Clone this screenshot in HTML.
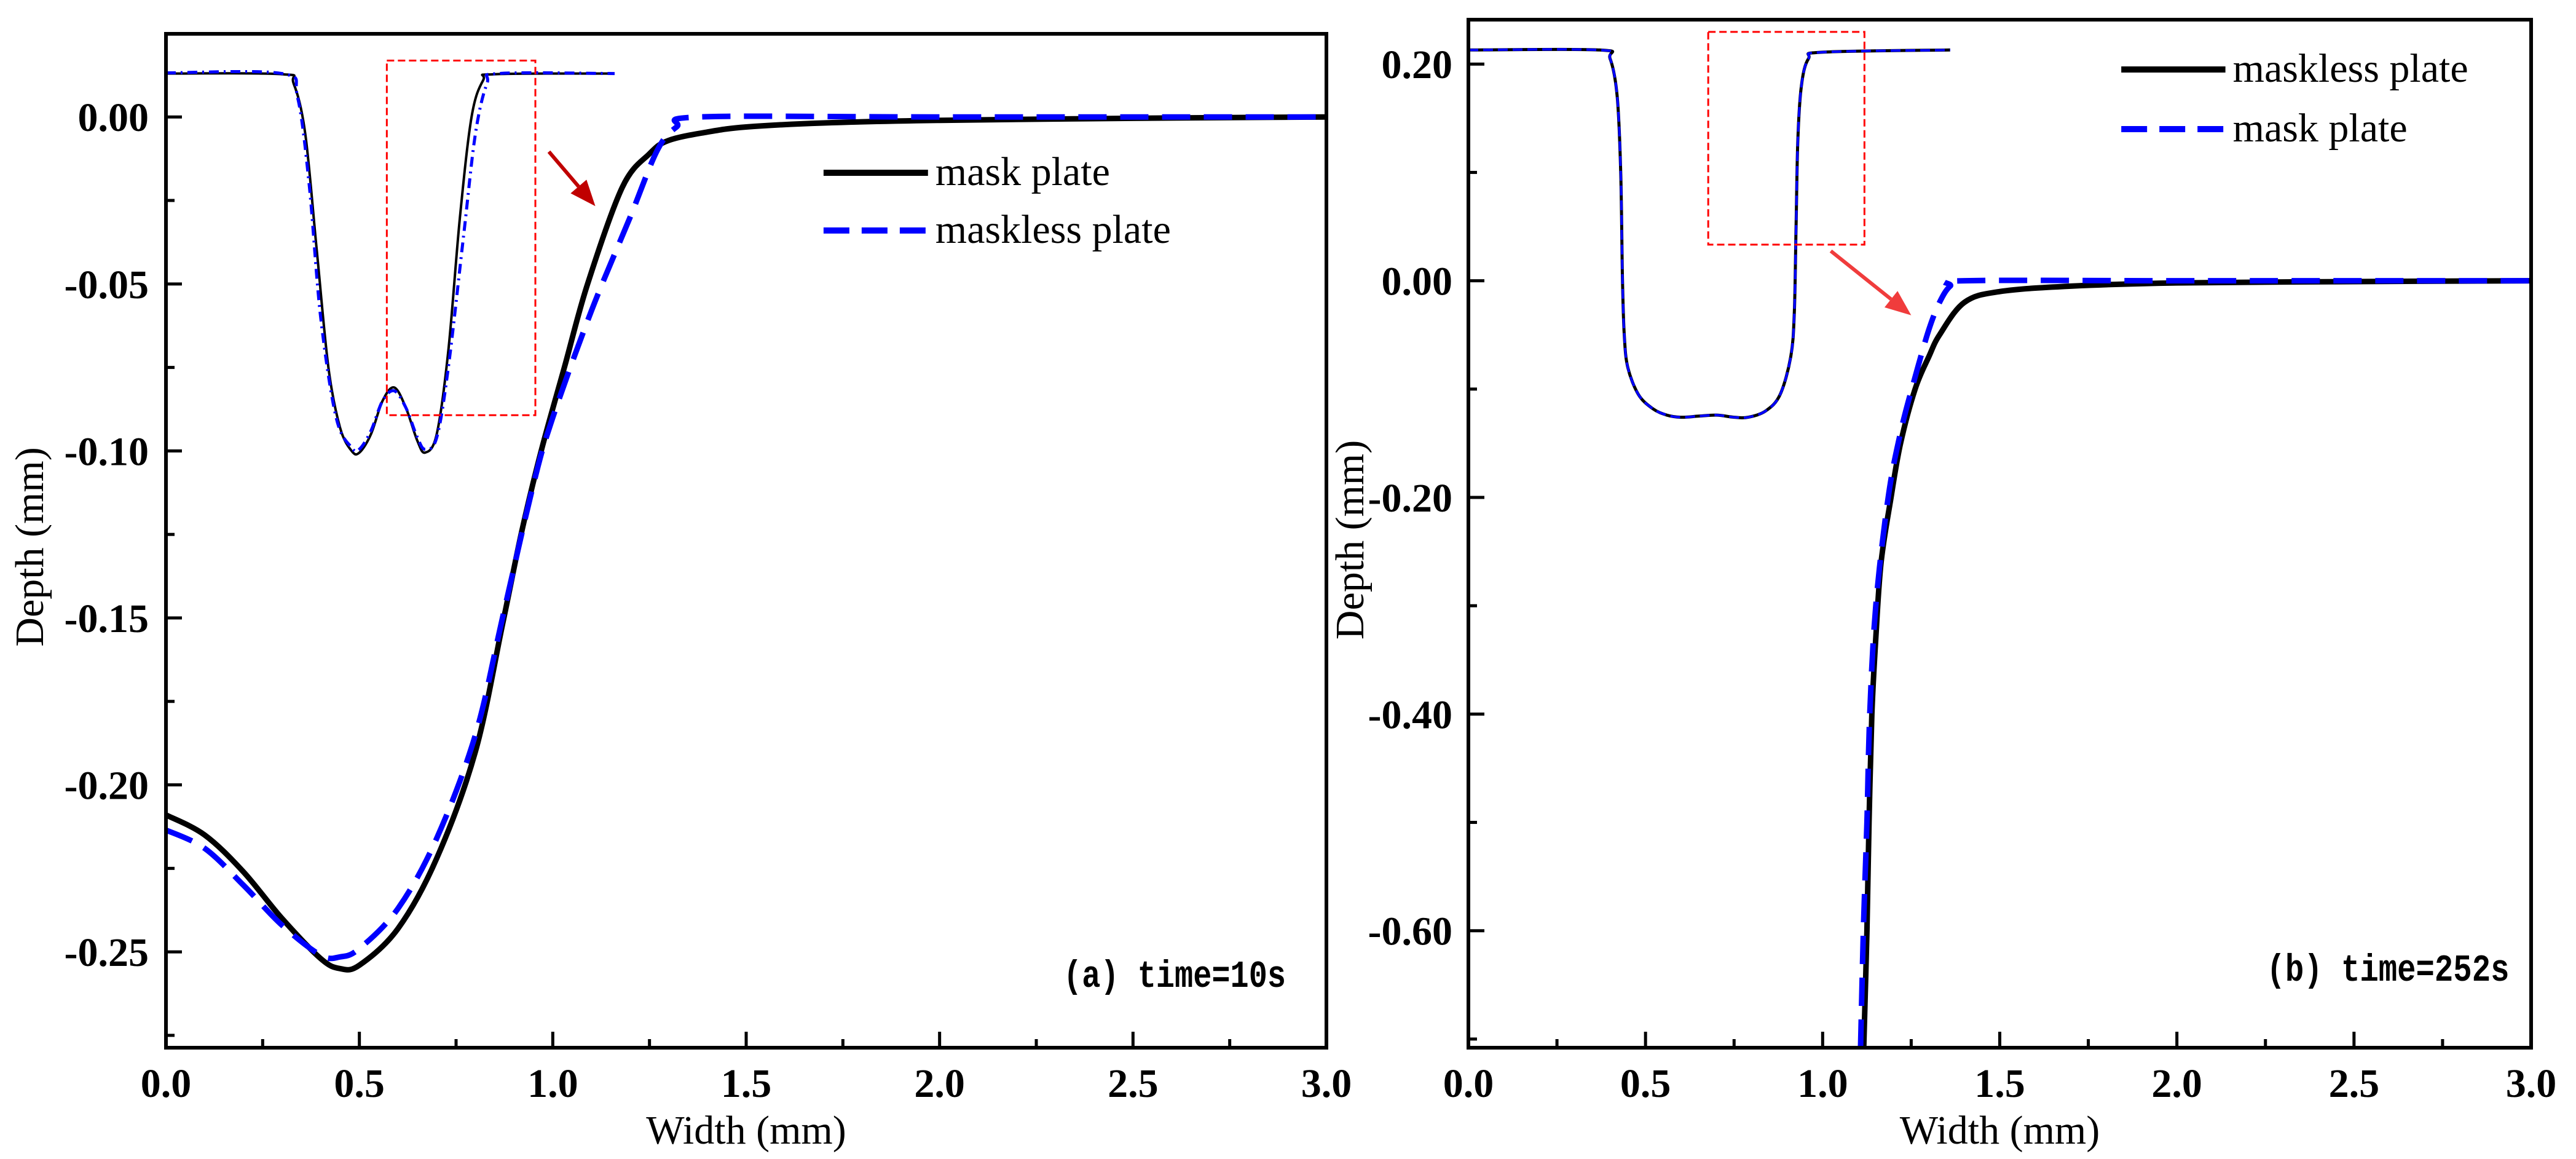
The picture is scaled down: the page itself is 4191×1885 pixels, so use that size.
<!DOCTYPE html>
<html><head><meta charset="utf-8"><style>
html,body{margin:0;padding:0;background:#fff;}
svg{display:block;}
</style></head><body>
<svg id="fig" width="4191" height="1885" viewBox="0 0 4191 1885" xmlns="http://www.w3.org/2000/svg"></svg>
<script>
// ---- Panel (a) data ----
const aMaskX = [0,0.1,0.2,0.3,0.4,0.45,0.5,0.6,0.7,0.8,0.87,0.92,0.97,1.03,1.09,1.18,1.25,1.3,1.4,1.5,1.7,2.0,2.5,3.0];
const aMaskY = [-0.209,-0.215,-0.226,-0.240,-0.252,-0.255,-0.254,-0.243,-0.222,-0.190,-0.152,-0.124,-0.100,-0.075,-0.050,-0.021,-0.011,-0.007,-0.0045,-0.003,-0.0018,-0.001,-0.0004,0];
const aMasklessX = [0,0.1,0.2,0.3,0.4,0.45,0.5,0.6,0.7,0.8,0.87,0.95,1.0,1.1,1.2,1.27,1.32,1.38,2.0,3.0];
const aMasklessY = [-0.2135,-0.219,-0.230,-0.242,-0.251,-0.2515,-0.249,-0.237,-0.216,-0.185,-0.150,-0.110,-0.090,-0.058,-0.030,-0.010,-0.003,0,0,0];
const aInsetMaskX = [0,0.3,0.33,0.36,0.39,0.42,0.45,0.48,0.50,0.53,0.56,0.59,0.62,0.65,0.67,0.70,0.73,0.76,0.79,0.82,0.85,1.16];
const aInsetMaskY = [0.013,0.0128,0.010,-0.005,-0.040,-0.075,-0.093,-0.100,-0.1005,-0.095,-0.085,-0.081,-0.087,-0.097,-0.1005,-0.095,-0.070,-0.030,0.000,0.011,0.0128,0.013];
const aInsetMasklessX = [0,0.3,0.34,0.37,0.40,0.44,0.48,0.50,0.53,0.56,0.59,0.62,0.65,0.67,0.70,0.73,0.77,0.80,0.83,0.86,1.16];
const aInsetMasklessY = [0.0132,0.013,0.006,-0.020,-0.060,-0.090,-0.099,-0.0995,-0.094,-0.085,-0.082,-0.087,-0.096,-0.0995,-0.096,-0.075,-0.035,-0.005,0.010,0.013,0.013];
const aXTicks = [0,0.5,1.0,1.5,2.0,2.5,3.0];
const aXTickLabels = ["0.0","0.5","1.0","1.5","2.0","2.5","3.0"];
const aYTicks = [0,-0.05,-0.10,-0.15,-0.20,-0.25];
const aYTickLabels = ["0.00","-0.05","-0.10","-0.15","-0.20","-0.25"];
// ---- Panel (b) data ----
const bMasklessX = [1.116,1.125,1.131,1.139,1.15,1.165,1.193,1.22,1.261,1.30,1.33,1.40,1.5,1.7,2.0,2.5,3.0];
const bMasklessY = [-0.708,-0.6,-0.5,-0.4,-0.33,-0.26,-0.2,-0.15,-0.1,-0.07,-0.05,-0.02,-0.01,-0.005,-0.002,-0.0008,0];
const bMaskX = [1.107,1.115,1.125,1.133,1.15,1.185,1.22,1.26,1.30,1.33,1.36,1.40,2.0,3.0];
const bMaskY = [-0.708,-0.6,-0.5,-0.4,-0.3,-0.2,-0.14,-0.09,-0.045,-0.02,-0.005,0,0,0];
const bInsetX = [0,0.37,0.40,0.42,0.43,0.435,0.44,0.45,0.48,0.52,0.56,0.6,0.65,0.70,0.75,0.79,0.84,0.88,0.91,0.92,0.925,0.93,0.94,0.96,1.0,1.36];
const bInsetY = [0.213,0.213,0.205,0.17,0.10,0.0,-0.05,-0.08,-0.105,-0.118,-0.124,-0.126,-0.125,-0.124,-0.126,-0.126,-0.120,-0.105,-0.07,-0.03,0.05,0.13,0.18,0.205,0.211,0.213];
const bXTicks = [0,0.5,1.0,1.5,2.0,2.5,3.0];
const bXTickLabels = ["0.0","0.5","1.0","1.5","2.0","2.5","3.0"];
const bYTicks = [0.2,0,-0.2,-0.4,-0.6];
const bYTickLabels = ["0.20","0.00","-0.20","-0.40","-0.60"];

const NS = "http://www.w3.org/2000/svg";
const svg = document.getElementById('fig');
function mk(tag, attrs, parent){const e=document.createElementNS(NS,tag);for(const k in attrs)e.setAttribute(k,attrs[k]);(parent||svg).appendChild(e);return e;}
function axis(L,R,T,B,xmin,xmax,ymin,ymax){
  return {x:v=>L+(v-xmin)/(xmax-xmin)*(R-L), y:v=>T+(ymax-v)/(ymax-ymin)*(B-T)};
}
function path(ax,xs,ys){
  const P=xs.map((x,i)=>[ax.x(x),ax.y(ys[i])]);
  let d='M'+P[0][0].toFixed(1)+' '+P[0][1].toFixed(1);
  for(let i=0;i<P.length-1;i++){
    const p0=P[Math.max(0,i-1)],p1=P[i],p2=P[i+1],p3=P[Math.min(P.length-1,i+2)];
    const t=1/6;
    const c1=[p1[0]+(p2[0]-p0[0])*t,p1[1]+(p2[1]-p0[1])*t];
    const c2=[p2[0]-(p3[0]-p1[0])*t,p2[1]-(p3[1]-p1[1])*t];
    d+=` C${c1[0].toFixed(1)} ${c1[1].toFixed(1)} ${c2[0].toFixed(1)} ${c2[1].toFixed(1)} ${p2[0].toFixed(1)} ${p2[1].toFixed(1)}`;
  }
  return d;
}
const serif='"Liberation Serif", serif';

function panel(cfg){
  const g=mk('g',{});
  
  
  const ax=axis(cfg.L,cfg.R,cfg.T,cfg.B,0,3,cfg.ymin,cfg.ymax);
  const clipId=cfg.name+'-clip';
  const cp=mk('clipPath',{id:clipId},g); mk('rect',{x:cfg.L,y:cfg.T,width:cfg.R-cfg.L,height:cfg.B-cfg.T},cp);
  const plot=mk('g',{'clip-path':'url(#'+clipId+')'},g);
  for(let i=0;i<aXTicks.length*2-1;i++){
    const v=i*0.25; const X=ax.x(v); const major=i%2===0;
    const t=mk('line',{x1:X,x2:X,y1:cfg.B,y2:cfg.B-(major?26:14),stroke:'#000','stroke-width':5},g);
    
    
  }
  cfg.xTicks.forEach((v,i)=>{
    const t=mk('text',{x:ax.x(v),y:1784,'font-family':serif,'font-size':66,'font-weight':'bold','text-anchor':'middle'},g);
    t.textContent=cfg.xLabels[i];
    
    
  });
  const step=cfg.yStep/2;
  for(let v=cfg.yTicks[0]+step*Math.ceil((cfg.ymax-cfg.yTicks[0])/step); v>=cfg.ymin-1e-9; v-=step){
    const major=Math.abs(Math.round(v/cfg.yStep)*cfg.yStep-v)<1e-6;
    const Y=ax.y(v); if(Y<cfg.T+3) continue;
    const t=mk('line',{x1:cfg.L,x2:cfg.L+(major?26:14),y1:Y,y2:Y,stroke:'#000','stroke-width':5},g);
    
    
  }
  cfg.yTicks.forEach((v,i)=>{
    const t=mk('text',{x:cfg.labelRight,y:ax.y(v)+23,'font-family':serif,'font-size':66,'font-weight':'bold','text-anchor':'end'},g);
    t.textContent=cfg.yLabels[i];
    
    
  });
  cfg.series.forEach(s=>{
    const p=mk('path',{d:path(ax,s.x,s.y),fill:'none',stroke:s.color,'stroke-width':s.w,'stroke-linejoin':'round','stroke-dasharray':s.dash||'none'},plot);
    
    
  });
  const bx=cfg.box;
  const r=mk('rect',{x:ax.x(bx[0]),y:ax.y(bx[3]),width:ax.x(bx[1])-ax.x(bx[0]),height:ax.y(bx[2])-ax.y(bx[3]),fill:'none',stroke:'#f00','stroke-width':3,'stroke-dasharray':'12 6'},g);
  
  
  const ar=cfg.arrow; const x1=ax.x(ar[0]),y1=ax.y(ar[1]),x2=ax.x(ar[2]),y2=ax.y(ar[3]);
  const ang=Math.atan2(y2-y1,x2-x1), hl=42, hw=17;
  const bxp=x2-hl*Math.cos(ang), byp=y2-hl*Math.sin(ang);
  const al=mk('line',{x1:x1,y1:y1,x2:bxp,y2:byp,stroke:cfg.arrowColor,'stroke-width':6},g);
  
  
  const ah=mk('polygon',{points:`${x2},${y2} ${bxp+hw*Math.sin(ang)},${byp-hw*Math.cos(ang)} ${bxp-hw*Math.sin(ang)},${byp+hw*Math.cos(ang)}`,fill:cfg.arrowColor},g);
  
  
  cfg.legend.forEach(l=>{
    const lg=mk('g',{},g);
    
    
    mk('line',{x1:ax.x(l.x0),x2:ax.x(l.x1),y1:ax.y(l.y),y2:ax.y(l.y),stroke:l.color,'stroke-width':10,'stroke-dasharray':l.dash||'none'},lg);
    const t=mk('text',{x:ax.x(l.x1)+12,y:ax.y(l.y)+20,'font-family':serif,'font-size':66},lg);
    t.textContent=l.text;
  });
  const an=mk('text',{x:ax.x(cfg.note[0]),y:ax.y(cfg.note[1]),'font-family':'"Liberation Mono", monospace','font-size':62,'font-weight':'bold',textLength:cfg.note[3],lengthAdjust:'spacingAndGlyphs','xml:space':'preserve'},g);
  an.textContent=cfg.note[2];
  
  
  const fr=mk('rect',{x:cfg.L,y:cfg.T,width:cfg.R-cfg.L,height:cfg.B-cfg.T,fill:'none',stroke:'#000','stroke-width':6},g);
  
  
  const xt=mk('text',{x:(cfg.L+cfg.R)/2,y:1860,'font-family':serif,'font-size':66,'text-anchor':'middle'},g);
  xt.textContent='Width (mm)';
  
  
  const yc=(cfg.T+cfg.B)/2+10;
  const yt=mk('text',{x:cfg.yTitleX,y:yc,'font-family':serif,'font-size':66,'text-anchor':'middle',transform:`rotate(-90 ${cfg.yTitleX} ${yc})`},g);
  yt.textContent='Depth (mm)';
  
  
}

panel({name:'panel-a',L:270,R:2158,T:55,B:1704,ymin:-0.2787,ymax:0.0249,yStep:0.05,
  xTicks:aXTicks,xLabels:aXTickLabels,yTicks:aYTicks,yLabels:aYTickLabels,labelRight:242,yTitleX:70,
  series:[
    {name:'inset-mask-plate',x:aInsetMaskX,y:aInsetMaskY,color:'#000',w:4},
    {name:'inset-maskless-plate',x:aInsetMasklessX,y:aInsetMasklessY,color:'#00f',w:5,dash:'16 8 3 8'},
    {name:'mask-plate-line',x:aMaskX,y:aMaskY,color:'#000',w:9},
    {name:'maskless-plate-line',x:aMasklessX,y:aMasklessY,color:'#00f',w:9,dash:'46 22'}],
  box:[0.571,0.955,-0.0893,0.0169],arrow:[0.99,-0.0104,1.11,-0.0267],arrowColor:'#c00000',
  legend:[{x0:1.70,x1:1.97,y:-0.0167,color:'#000',text:'mask plate'},{x0:1.70,x1:1.97,y:-0.034,color:'#00f',dash:'42 20',text:'maskless plate'}],
  note:[2.32,-0.2605,'(a)  time=10s',362]});

panel({name:'panel-b',L:2389,R:4118,T:32,B:1704,ymin:-0.708,ymax:0.241,yStep:0.2,
  xTicks:bXTicks,xLabels:bXTickLabels,yTicks:bYTicks,yLabels:bYTickLabels,labelRight:2363,yTitleX:2218,
  series:[
    {name:'inset-maskless-plate',x:bInsetX,y:bInsetY,color:'#000',w:5},
    {name:'inset-mask-plate',x:bInsetX,y:bInsetY,color:'#00f',w:4,dash:'16 8'},
    {name:'maskless-plate-line',x:bMasklessX,y:bMasklessY,color:'#000',w:9},
    {name:'mask-plate-line',x:bMaskX,y:bMaskY,color:'#00f',w:9,dash:'46 22'}],
  box:[0.677,1.118,0.0333,0.2297],arrow:[1.023,0.0275,1.25,-0.0319],arrowColor:'#f03c3c',
  legend:[{x0:1.843,x1:2.137,y:0.195,color:'#000',text:'maskless plate'},{x0:1.843,x1:2.137,y:0.140,color:'#00f',dash:'42 20',text:'mask plate'}],
  note:[2.253,-0.646,'(b)  time=252s',395]});
</script>
</body></html>
